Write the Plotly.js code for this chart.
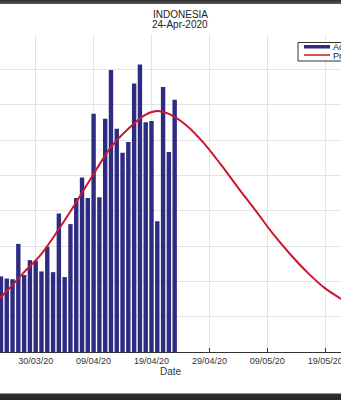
<!DOCTYPE html>
<html>
<head>
<meta charset="utf-8">
<script src="https://cdn.plot.ly/plotly-3.0.1.min.js"></script>
<style>
  html, body { margin: 0; padding: 0; background: #ffffff; }
  #wrap { position: relative; width: 341px; height: 400px; overflow: hidden; }
  #chart { position: absolute; left: 0; top: 0; width: 341px; height: 400px; }
  #topband { position: absolute; left: 0; top: 0; width: 341px; height: 4px;
             background: linear-gradient(#2e2e2e, #5a5a5a); z-index: 5; }
  #botband { position: absolute; left: 0; top: 393px; width: 341px; height: 7px;
             background: linear-gradient(#9a9a9a 0px, #9a9a9a 1px, #2f2f2f 1px, #262626 7px); z-index: 5; }
</style>
</head>
<body>
<div id="wrap">
  <div id="chart"></div>
  <div id="topband"></div>
  <div id="botband"></div>
</div>
<script>
// Actual daily cases (bars)
var barDates = [
  '2020-03-24','2020-03-25','2020-03-26','2020-03-27','2020-03-28','2020-03-29','2020-03-30','2020-03-31',
  '2020-04-01','2020-04-02','2020-04-03','2020-04-04','2020-04-05','2020-04-06','2020-04-07','2020-04-08',
  '2020-04-09','2020-04-10','2020-04-11','2020-04-12','2020-04-13','2020-04-14','2020-04-15','2020-04-16',
  '2020-04-17','2020-04-18','2020-04-19','2020-04-20','2020-04-21','2020-04-22','2020-04-23'
];
var barValues = [
  107, 104, 103, 153, 109, 130, 129, 114,
  149, 113, 196, 106, 181, 218, 247, 218,
  337, 219, 330, 399, 316, 282, 297, 380,
  407, 325, 327, 185, 375, 283, 357
];

// Prediction curve
var predDates = [
  '2020-03-22','2020-03-25','2020-03-28','2020-03-31','2020-04-03','2020-04-06','2020-04-09',
  '2020-04-12','2020-04-15','2020-04-18','2020-04-20','2020-04-22','2020-04-25','2020-04-28',
  '2020-05-01','2020-05-04','2020-05-07','2020-05-10','2020-05-13','2020-05-16','2020-05-19',
  '2020-05-22','2020-05-25'
];
var predValues = [
  62, 86, 113, 139, 174, 212, 252,
  290, 316, 336, 341, 337, 321, 296,
  265, 232, 200, 167, 138, 112, 90,
  74, 60
];

// Axis ticks
var tickDates = ['2020-03-30','2020-04-09','2020-04-19','2020-04-29','2020-05-09','2020-05-19'];
var tickLabels = ['30/03/20','09/04/20','19/04/20','29/04/20','09/05/20','19/05/20'];

var seriesNames = ['Actual', 'Prediction'];
var titleLines = ['INDONESIA', '24-Apr-2020'];

var barColor = '#2d2b82';
var lineColor = '#c8192f';
var DAY = 86400000;

var traces = [
  {
    type: 'bar', x: barDates, y: barValues, name: seriesNames[0],
    width: 0.76 * DAY,
    marker: { color: barColor, line: { width: 0 } },
    hoverinfo: 'skip'
  },
  {
    type: 'scatter', mode: 'lines', x: predDates, y: predValues, name: seriesNames[1],
    line: { color: lineColor, width: 2, shape: 'spline', smoothing: 1 },
    hoverinfo: 'skip'
  }
];

var font = 'Liberation Sans, Arial, Helvetica, sans-serif';

var layout = {
  width: 341, height: 400,
  margin: { l: 0, r: 0, t: 34, b: 48, pad: 0, autoexpand: false },
  paper_bgcolor: '#ffffff', plot_bgcolor: '#ffffff',
  showlegend: false,
  font: { family: font, color: '#333' },
  xaxis: {
    type: 'date',
    range: ['2020-03-23 20:00', '2020-05-21 17:30'],
    tickmode: 'array', tickvals: tickDates, ticktext: tickLabels,
    ticklabeloverflow: 'allow',
    ticks: 'inside', ticklen: 4, tickcolor: '#333', tickwidth: 1,
    showline: true, linecolor: '#333', linewidth: 1,
    showgrid: true, gridcolor: '#e4e4e4', gridwidth: 1,
    zeroline: false,
    tickfont: { family: font, size: 9, color: '#333' },
    title: { text: 'Date', font: { family: font, size: 10, color: '#333' }, standoff: 3 }
  },
  yaxis: {
    range: [0, 450], tick0: 0, dtick: 50,
    showticklabels: false, ticks: '',
    showgrid: true, gridcolor: '#e4e4e4', gridwidth: 1,
    zeroline: false, showline: false
  },
  shapes: [
    // legend box
    { type: 'rect', xref: 'paper', yref: 'paper', x0: 298/341, x1: 1.2, y0: (352-61)/318, y1: (352-42.5)/318,
      line: { color: '#333', width: 1 }, fillcolor: '#ffffff', layer: 'above' },
    // bar symbol
    { type: 'rect', xref: 'paper', yref: 'paper', x0: 304/341, x1: 330/341, y0: (352-48.5)/318, y1: (352-45)/318,
      line: { width: 0 }, fillcolor: barColor, layer: 'above' },
    // line symbol
    { type: 'line', xref: 'paper', yref: 'paper', x0: 304/341, x1: 330/341, y0: (352-55)/318, y1: (352-55)/318,
      line: { color: lineColor, width: 1.5 }, layer: 'above' }
  ],
  annotations: [
    { text: titleLines[0], xref: 'paper', yref: 'paper', x: 180/341, y: (352-15)/318,
      xanchor: 'center', yanchor: 'middle', showarrow: false, font: { family: font, size: 10, color: '#222' } },
    { text: titleLines[1], xref: 'paper', yref: 'paper', x: 180/341, y: (352-25)/318,
      xanchor: 'center', yanchor: 'middle', showarrow: false, font: { family: font, size: 10, color: '#222' } },
    { text: seriesNames[0], xref: 'paper', yref: 'paper', x: 331/341, y: (352-47)/318,
      xanchor: 'left', yanchor: 'middle', showarrow: false, font: { family: font, size: 9, color: '#222' } },
    { text: seriesNames[1], xref: 'paper', yref: 'paper', x: 331/341, y: (352-55.5)/318,
      xanchor: 'left', yanchor: 'middle', showarrow: false, font: { family: font, size: 9, color: '#222' } }
  ]
};

Plotly.newPlot('chart', traces, layout, { staticPlot: true, displayModeBar: false });
</script>
</body>
</html>
